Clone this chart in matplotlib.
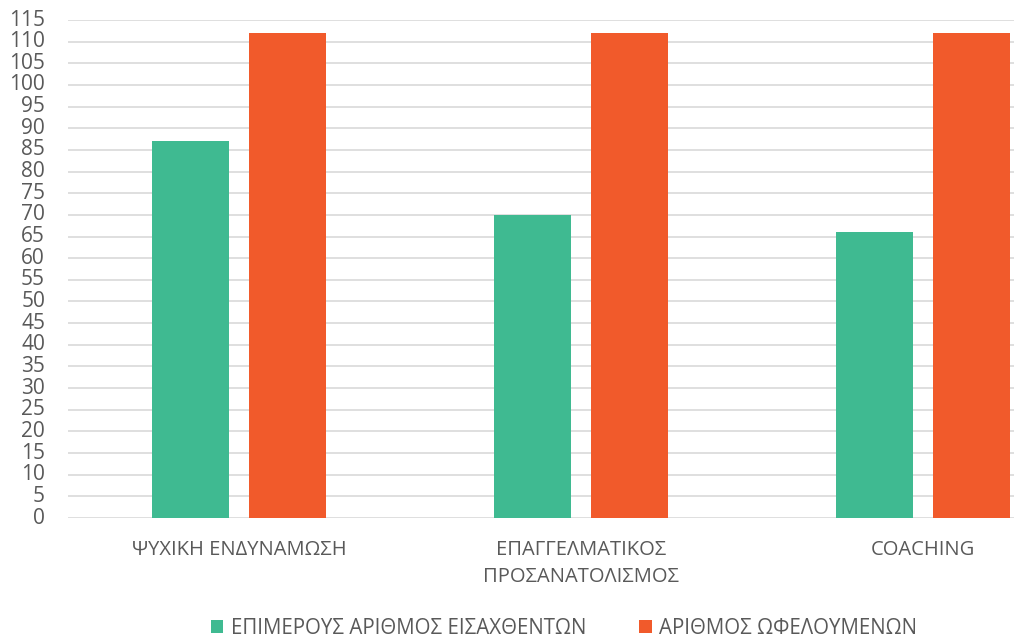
import numpy as np
import matplotlib.pyplot as plt

plt.rcParams['font.family'] = ['Open Sans', 'DejaVu Sans']

categories = ["ΨΥΧΙΚΗ ΕΝΔΥΝΑΜΩΣΗ", "ΕΠΑΓΓΕΛΜΑΤΙΚΟΣ\nΠΡΟΣΑΝΑΤΟΛΙΣΜΟΣ", "COACHING"]
admitted = [87, 70, 66]
beneficiaries = [112, 112, 112]
series_names = ["ΕΠΙΜΕΡΟΥΣ ΑΡΙΘΜΟΣ ΕΙΣΑΧΘΕΝΤΩΝ", "ΑΡΙΘΜΟΣ ΩΦΕΛΟΥΜΕΝΩΝ"]
colors = ["#3fba91", "#f15a2b"]
text_color = "#595959"

W, H = 1014, 641
fig = plt.figure(figsize=(W / 100, H / 100), dpi=100)
ax = fig.add_axes([68 / W, 1 - 518 / H, (1014 - 68) / W, (518 - 20) / H])

xs = np.arange(len(categories))
ax.bar(xs - 0.142, admitted, width=0.225, color=colors[0], label=series_names[0], zorder=3)
ax.bar(xs + 0.142, beneficiaries, width=0.225, color=colors[1], label=series_names[1], zorder=3)

ax.set_xlim(-0.5, (1014 - 68) / 342 - 0.5)
ax.set_ylim(0, 115)
ax.set_yticks(range(0, 116, 5))
ax.set_xticks(xs)
ax.set_xticklabels(categories, linespacing=1.45)
ax.yaxis.grid(True, color="#d9d9d9", linewidth=1.2, zorder=0)
for s in ["top", "right", "left", "bottom"]:
    ax.spines[s].set_visible(False)
ax.tick_params(axis="y", length=0, pad=16.5, labelsize=15, labelcolor=text_color)
ax.tick_params(axis="x", length=0, pad=16, labelsize=14.5, labelcolor=text_color)
for lbl in ax.get_yticklabels():
    lbl.set_va("center")

fig.legend(loc="center", bbox_to_anchor=(564 / W, 1 - 628 / H), ncol=2, frameon=False,
           fontsize=14.8, labelcolor=text_color, handlelength=0.6, handleheight=0.6,
           handletextpad=0.35, columnspacing=2.6, borderpad=0.2)

fig.savefig("out.png", dpi=100)
